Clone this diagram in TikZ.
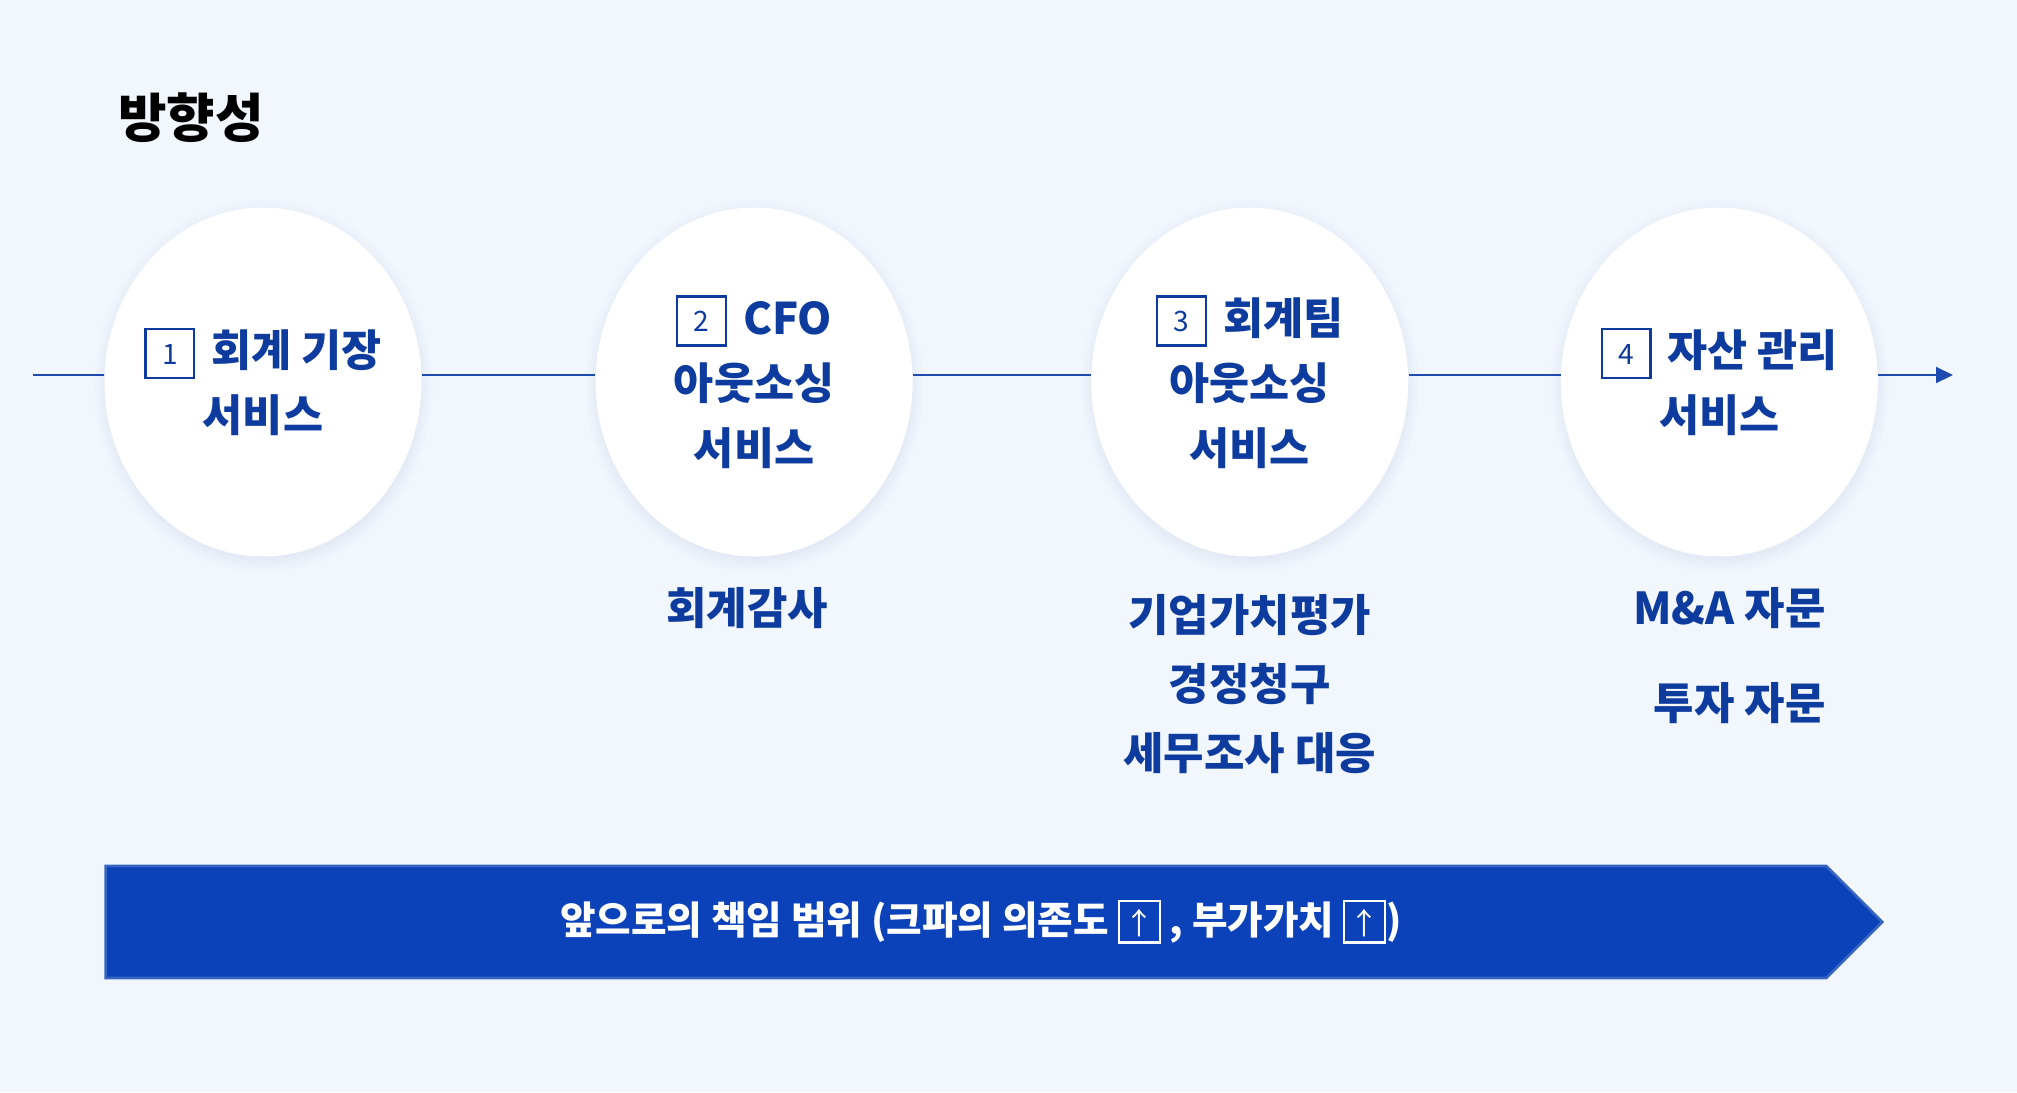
\documentclass[tikz,border=0pt]{standalone}
\usepackage{fontspec}
\setmainfont{Noto Sans CJK KR}
\usetikzlibrary{shapes,arrows.meta,positioning,shadows}
\definecolor{bgblue}{RGB}{242,247,254}
\definecolor{navy}{RGB}{13,59,158}
\definecolor{lineblue}{RGB}{30,75,175}
\definecolor{bandblue}{RGB}{12,66,185}
\definecolor{bandedge}{RGB}{55,100,192}
\definecolor{glowgray}{RGB}{160,172,205}

\newcommand{\numbox}[1]{{\setlength{\fboxrule}{1.3pt}\setlength{\fboxsep}{0pt}\fbox{\makebox[0.93cm]{\rule[-0.2cm]{0pt}{0.93cm}\normalfont\fontsize{16pt}{16pt}\selectfont\raisebox{0.05cm}{#1}}}\hspace{0.32cm}}}
\newcommand{\upmark}{{\setlength{\fboxrule}{1.2pt}\setlength{\fboxsep}{0pt}\fbox{\makebox[0.78cm]{\rule[-0.13cm]{0pt}{0.78cm}\normalfont\fontsize{17pt}{17pt}\selectfont ↑}}}}

\begin{document}
\begin{tikzpicture}[x=0.02cm, y=-0.02cm,
    disc/.style={ellipse, fill=white, inner sep=0pt, minimum width=6.34cm, minimum height=6.98cm,
        circular drop shadow={shadow xshift=0pt, shadow yshift=-2pt, shadow scale=1.07, fill=glowgray, opacity=0.3}},
    svc/.style={align=center, inner sep=0pt, text=navy, font=\fontsize{24.8pt}{37pt}\selectfont\bfseries},
    sub/.style={align=center, inner sep=0pt, text=navy, font=\fontsize{25pt}{37pt}\selectfont\bfseries},
    heading/.style={inner sep=0pt, anchor=west, font=\fontsize{30pt}{32pt}\selectfont\bfseries},
    link/.style={draw=lineblue, line width=1.1pt},
    arrow/.style={link, -{Triangle[length=0.34cm, width=0.32cm]}},
    banner/.style={signal, signal to=east, signal pointer angle=90, fill=bandblue, draw=bandedge, line width=1.5pt, minimum width=35.54cm, minimum height=2.24cm, text=white, font=\fontsize{22pt}{24pt}\selectfont\bfseries},
]
    \fill[bgblue] (0,0) rectangle (2017,1092);
    \useasboundingbox (0,0) rectangle (2017,1092);

    \node[heading] (title) at (118,118) {방향성};

    % service circles
    \node[disc] (c1) at (263,382) {};
    \node[disc, right=3.47cm of c1] (c2) {};
    \node[disc, right=3.56cm of c2] (c3) {};
    \node[disc, right=3.04cm of c3] (c4) {};
    \node[svc] (t1) at (c1) {\numbox{1}회계 기장\\서비스};
    \node[svc] (t2) at (c2) {\numbox{2}CFO\\아웃소싱\\서비스};
    \node[svc] (t3) at (c3) {\numbox{3}회계팀\\아웃소싱\\서비스};
    \node[svc] (t4) at (c4) {\numbox{4}자산 관리\\서비스};

    \coordinate (lstart) at (33,375);
    \coordinate (lend) at (1953,375);
    \draw[link] (lstart) -- ([yshift=0.14cm]c1.west);
    \draw[link] ([yshift=0.14cm]c1.east) -- ([yshift=0.14cm]c2.west);
    \draw[link] ([yshift=0.14cm]c2.east) -- ([yshift=0.14cm]c3.west);
    \draw[link] ([yshift=0.14cm]c3.east) -- ([yshift=0.14cm]c4.west);
    \draw[arrow] ([yshift=0.14cm]c4.east) -- (lend);

    % services under each step
    \node[sub, below=0.6cm of c2, xshift=-0.14cm] (audit) {회계감사};
    \node[sub, below=0.74cm of c3, font=\fontsize{25pt}{39.3pt}\selectfont\bfseries] (value) {기업가치평가\\경정청구\\세무조사 대응};
    \node[sub, below=0.6cm of c4, align=right, xshift=0.2cm] (advice) {M\&A 자문\\[0.6cm]투자 자문};

    \node[banner] (scope) at (966,922) {\hspace*{0.6cm}앞으로의 책임 범위 (크파의 의존도 \upmark\ , 부가가치 \upmark)};
\end{tikzpicture}
\end{document}
